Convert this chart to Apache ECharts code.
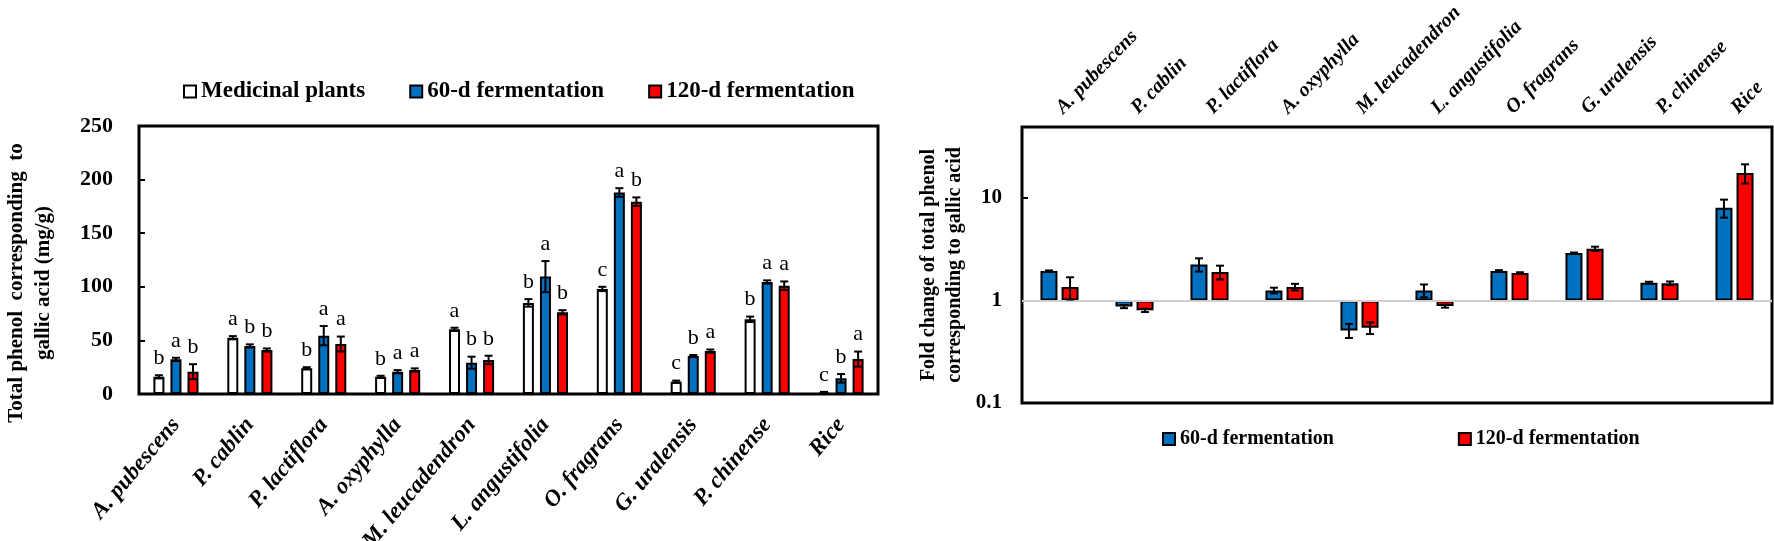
<!DOCTYPE html>
<html>
<head>
<meta charset="utf-8">
<script src="https://cdn.jsdelivr.net/npm/echarts@6/dist/echarts.min.js"></script>
<style>
  html, body { margin: 0; padding: 0; background: #fff; }
  #chart { width: 1774px; height: 541px; }
</style>
</head>
<body>
<div id="chart"></div>
<script>
// categories shared by both panels
const categories = ['A. pubescens', 'P. cablin', 'P. lactiflora', 'A. oxyphylla', 'M. leucadendron',
  'L. angustifolia', 'O. fragrans', 'G. uralensis', 'P. chinense', 'Rice'];

// left panel: total phenol (mg/g)
const medicinal = [16, 52.5, 24, 16, 60.3, 85, 98, 11.5, 69.7, 1.5];
const medicinalErr = [1.5, 1.5, 1, 1, 1.5, 3.5, 2, 1, 2.5, 0.5];
const medicinalLetters = ['b', 'a', 'b', 'b', 'a', 'b', 'c', 'c', 'b', 'c'];

const ferm60 = [32.3, 44.8, 54.4, 20.8, 29.2, 109.5, 188, 35.4, 104.5, 14.6];
const ferm60Err = [1.5, 1.5, 9, 1.5, 5.6, 14.5, 4, 1, 1.5, 4];
const ferm60Letters = ['a', 'b', 'a', 'a', 'b', 'a', 'a', 'b', 'a', 'b'];

const ferm120 = [20.8, 41, 46.6, 22.4, 31.7, 76.2, 179.4, 40, 101, 32.6];
const ferm120Err = [7, 1.5, 7, 1.5, 4, 2, 4, 1.5, 4, 7];
const ferm120Letters = ['b', 'b', 'a', 'a', 'b', 'b', 'b', 'a', 'a', 'a'];

// right panel: fold change
const fold60 = [1.93, 0.87, 2.24, 1.25, 0.51, 1.25, 1.93, 2.9, 1.49, 8.0];
const fold60Err = [0.03, 0.03, 0.33, 0.08, 0.08, 0.18, 0.04, 0.03, 0.03, 1.6];
const fold120 = [1.35, 0.80, 1.89, 1.35, 0.54, 0.88, 1.85, 3.19, 1.47, 17.5];
const fold120Err = [0.33, 0.03, 0.29, 0.1, 0.07, 0.03, 0.03, 0.15, 0.06, 3.7];

const logTicks = [0.1, 1, 10];

const SERIF = "'Liberation Serif', 'Times New Roman', serif";
const BLUE = '#0070C0';
const RED = '#FF0000';

const leftBarW = 11, leftGap = 0.55;
const rightBarW = 17, rightGap = 0.24;

function barSeries(name, data, color, axis, barW, gap) {
  return {
    name: name,
    type: 'bar',
    xAxisIndex: axis,
    yAxisIndex: axis,
    data: data,
    barWidth: barW,
    barGap: (gap * 100) + '%',
    itemStyle: { color: color, borderColor: '#000', borderWidth: 2 },
    emphasis: { disabled: true }
  };
}

// error bars (and significance letters) drawn through the axis scales
function errorSeries(values, errs, letters, axis, offset) {
  return {
    type: 'custom',
    xAxisIndex: axis,
    yAxisIndex: axis,
    z: 5,
    silent: true,
    data: values.map((v, i) => [i, v, errs[i]]),
    encode: { x: 0, y: 1 },
    renderItem: function (params, api) {
      const i = api.value(0), v = api.value(1), e = api.value(2);
      const x = api.coord([i, v])[0] + offset;
      const yHi = api.coord([i, v + e])[1];
      const yLo = api.coord([i, Math.max(v - e, 0.0001)])[1];
      const cap = 4;
      const style = { stroke: '#000', lineWidth: 2 };
      const children = [
        { type: 'line', shape: { x1: x, y1: yHi, x2: x, y2: yLo }, style: style },
        { type: 'line', shape: { x1: x - cap, y1: yHi, x2: x + cap, y2: yHi }, style: style },
        { type: 'line', shape: { x1: x - cap, y1: yLo, x2: x + cap, y2: yLo }, style: style }
      ];
      if (letters) {
        children.push({
          type: 'text',
          x: x, y: yHi - 6,
          style: {
            text: letters[params.dataIndex],
            fill: '#000',
            font: '22px ' + SERIF,
            align: 'center',
            verticalAlign: 'bottom'
          }
        });
      }
      return { type: 'group', children: children };
    }
  };
}

const chart = echarts.init(document.getElementById('chart'));
const ls = leftBarW * (1 + leftGap);
const rs = rightBarW * (1 + rightGap);

chart.setOption({
  animation: false,
  backgroundColor: '#fff',
  textStyle: { fontFamily: SERIF, color: '#000' },
  legend: [
    {
      data: ['Medicinal plants', '60-d fermentation', '120-d fermentation'],
      left: 183, top: 80, padding: 0,
      itemWidth: 12, itemHeight: 12, itemGap: 44,
      icon: 'rect',
      textStyle: { fontFamily: SERIF, fontWeight: 'bold', fontSize: 23, color: '#000' },
      selectedMode: false
    },
    {
      data: ['60-d fermentation', '120-d fermentation'],
      left: 1162, top: 429, padding: 0,
      itemWidth: 12, itemHeight: 12, itemGap: 124,
      icon: 'rect',
      textStyle: { fontFamily: SERIF, fontWeight: 'bold', fontSize: 20, color: '#000' },
      selectedMode: false
    }
  ],
  grid: [
    { left: 139, top: 126, width: 739, height: 268, outerBoundsMode: 'none', containLabel: false,
      show: true, borderColor: '#000', borderWidth: 3, backgroundColor: 'transparent' },
    { left: 1022, top: 127, width: 750, height: 276, outerBoundsMode: 'none', containLabel: false,
      show: true, borderColor: '#000', borderWidth: 3, backgroundColor: 'transparent' }
  ],
  xAxis: [
    {
      type: 'category', gridIndex: 0, data: categories,
      axisLine: { show: false }, axisTick: { show: false },
      axisLabel: {
        rotate: 50, margin: 27, interval: 0, padding: [0, 0, 10, 0],
        fontFamily: SERIF, fontStyle: 'italic', fontWeight: 'bold', fontSize: 23, color: '#000'
      }
    },
    {
      type: 'category', gridIndex: 1, data: categories, position: 'top',
      axisLine: { show: false }, axisTick: { show: false },
      axisLabel: { rotate: -46, margin: 16, interval: 0, fontFamily: SERIF, fontStyle: 'italic', fontWeight: 'bold', fontSize: 20, color: '#000' }
    }
  ],
  yAxis: [
    {
      type: 'value', gridIndex: 0, min: 0, max: 250, interval: 50,
      name: 'Total phenol  corresponding  to\ngallic acid (mg/g)',
      nameLocation: 'middle', nameGap: 82, nameRotate: 90,
      nameTextStyle: { fontFamily: SERIF, fontWeight: 'bold', fontSize: 21, lineHeight: 27, color: '#000', padding: [0, 46, 0, 0] },
      axisLine: { show: false }, splitLine: { show: false },
      axisTick: { show: true, inside: true, length: 6, lineStyle: { color: '#000', width: 2 } },
      axisLabel: { margin: 26, fontFamily: SERIF, fontWeight: 'bold', fontSize: 22, color: '#000' }
    },
    {
      type: 'log', gridIndex: 1, logBase: 10, min: 0.1, max: 49, interval: 1,
      name: 'Fold change of total phenol\ncorresponding to gallic acid',
      nameLocation: 'middle', nameGap: 54, nameRotate: 90,
      nameTextStyle: { fontFamily: SERIF, fontWeight: 'bold', fontSize: 20, lineHeight: 26, color: '#000' },
      axisLine: { show: false }, splitLine: { show: false },
      axisTick: { show: true, inside: true, length: 6, lineStyle: { color: '#000', width: 2 } },
      axisLabel: {
        margin: 20, fontFamily: SERIF, fontWeight: 'bold', fontSize: 21, color: '#000',
        formatter: function (v) {
          const hit = logTicks.find(t => Math.abs(t - v) / t < 1e-6);
          return hit !== undefined ? String(hit) : '';
        }
      }
    }
  ],
  series: [
    barSeries('Medicinal plants', medicinal, '#fff', 0, leftBarW, leftGap),
    barSeries('60-d fermentation', ferm60, BLUE, 0, leftBarW, leftGap),
    barSeries('120-d fermentation', ferm120, RED, 0, leftBarW, leftGap),
    errorSeries(medicinal, medicinalErr, medicinalLetters, 0, -ls),
    errorSeries(ferm60, ferm60Err, ferm60Letters, 0, 0),
    errorSeries(ferm120, ferm120Err, ferm120Letters, 0, ls),
    Object.assign(barSeries('60-d fermentation', fold60, BLUE, 1, rightBarW, rightGap), {
      markLine: {
        silent: true, symbol: 'none', label: { show: false },
        lineStyle: { color: '#d0d0d0', width: 2, type: 'solid' },
        data: [{ yAxis: 1 }]
      }
    }),
    barSeries('120-d fermentation', fold120, RED, 1, rightBarW, rightGap),
    errorSeries(fold60, fold60Err, null, 1, -rs / 2),
    errorSeries(fold120, fold120Err, null, 1, rs / 2)
  ]
});

window.addEventListener('resize', () => chart.resize());
</script>
</body>
</html>
